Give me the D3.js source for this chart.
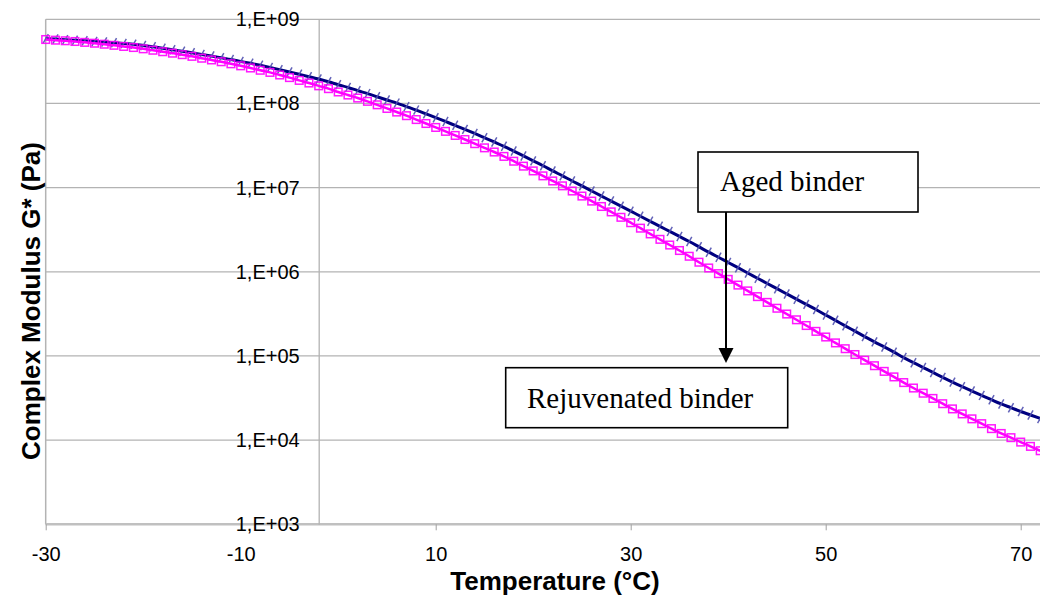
<!DOCTYPE html>
<html>
<head>
<meta charset="utf-8">
<script src="https://cdn.jsdelivr.net/npm/d3@7"></script>
<style>
  html, body { margin: 0; padding: 0; background: #fff; overflow: hidden; }
  svg { display: block; }
</style>
</head>
<body>
<div id="my_dataviz"></div>
<script>
// temperatures (°C), one reading every degree
var temperature = [-30,-29,-28,-27,-26,-25,-24,-23,-22,-21,-20,-19,-18,-17,-16,-15,-14,-13,-12,-11,
  -10,-9,-8,-7,-6,-5,-4,-3,-2,-1,0,1,2,3,4,5,6,7,8,9,10,11,12,13,14,15,16,17,18,19,
  20,21,22,23,24,25,26,27,28,29,30,31,32,33,34,35,36,37,38,39,40,41,42,43,44,45,46,47,48,49,
  50,51,52,53,54,55,56,57,58,59,60,61,62,63,64,65,66,67,68,69,70,71,72];

// complex modulus G* (Pa), aged binder
var agedG = [5.89e8,5.82e8,5.73e8,5.65e8,5.56e8,5.46e8,5.37e8,5.26e8,5.15e8,5.05e8,
  4.89e8,4.71e8,4.53e8,4.35e8,4.17e8,4.00e8,3.82e8,3.66e8,3.49e8,3.33e8,
  3.16e8,3.00e8,2.84e8,2.68e8,2.52e8,2.37e8,2.22e8,2.08e8,1.95e8,1.81e8,
  1.67e8,1.55e8,1.42e8,1.31e8,1.20e8,1.10e8,1.01e8,9.18e7,8.34e7,7.52e7,
  6.78e7,6.11e7,5.50e7,4.92e7,4.40e7,3.92e7,3.49e7,3.10e7,2.72e7,2.38e7,
  2.08e7,1.82e7,1.58e7,1.38e7,1.20e7,1.05e7,9.12e6,7.94e6,6.92e6,6.03e6,
  5.25e6,4.57e6,3.98e6,3.47e6,3.02e6,2.63e6,2.29e6,1.98e6,1.71e6,1.49e6,
  1.29e6,1.12e6,9.68e5,8.39e5,7.26e5,6.30e5,5.46e5,4.73e5,4.10e5,3.56e5,
  3.07e5,2.65e5,2.28e5,1.97e5,1.70e5,1.47e5,1.28e5,1.11e5,9.57e4,8.32e4,
  7.28e4,6.37e4,5.57e4,4.89e4,4.32e4,3.83e4,3.40e4,3.02e4,2.69e4,2.43e4,
  2.19e4,1.99e4,1.81e4];

// complex modulus G* (Pa), rejuvenated binder
var rejuvenatedG = [5.75e8,5.65e8,5.56e8,5.45e8,5.32e8,5.20e8,5.06e8,4.91e8,4.76e8,4.62e8,
  4.46e8,4.29e8,4.12e8,3.96e8,3.80e8,3.63e8,3.45e8,3.29e8,3.13e8,2.96e8,
  2.80e8,2.64e8,2.48e8,2.34e8,2.18e8,2.03e8,1.88e8,1.75e8,1.62e8,1.50e8,
  1.37e8,1.26e8,1.16e8,1.06e8,9.64e7,8.73e7,7.91e7,7.16e7,6.44e7,5.78e7,
  5.19e7,4.66e7,4.17e7,3.73e7,3.33e7,2.97e7,2.65e7,2.35e7,2.06e7,1.80e7,
  1.58e7,1.38e7,1.20e7,1.05e7,9.12e6,7.94e6,6.92e6,5.97e6,5.15e6,4.44e6,
  3.83e6,3.30e6,2.82e6,2.43e6,2.08e6,1.79e6,1.53e6,1.30e6,1.11e6,9.51e5,
  8.13e5,6.95e5,5.93e5,5.07e5,4.33e5,3.69e5,3.15e5,2.69e5,2.30e5,1.96e5,
  1.68e5,1.43e5,1.22e5,1.04e5,8.91e4,7.66e4,6.56e4,5.64e4,4.83e4,4.16e4,
  3.61e4,3.13e4,2.71e4,2.35e4,2.05e4,1.79e4,1.57e4,1.37e4,1.20e4,1.07e4,
  9.48e3,8.43e3,7.48e3];

// axis ticks
var xTicks = [-30, -10, 10, 30, 50, 70];
var yTicks = [1e3, 1e4, 1e5, 1e6, 1e7, 1e8, 1e9];
var yTickLabels = ["1,E+03", "1,E+04", "1,E+05", "1,E+06", "1,E+07", "1,E+08", "1,E+09"];
var yAxisCross = -2;   // °C where the vertical axis sits

var W = 1040, H = 596;
var plot = {left: 45.7, top: 19.3, right: 1040.2, bottom: 524.3};

var svg = d3.select("#my_dataviz")
  .append("svg")
  .attr("width", W)
  .attr("height", H);

var x = d3.scaleLinear()
  .domain([-30, 72])
  .range([plot.left, plot.right]);

var y = d3.scaleLog()
  .domain([1e3, 1e9])
  .range([plot.bottom, plot.top]);

var sans = "'Liberation Sans', Arial, sans-serif";
var serif = "'Liberation Serif', 'Times New Roman', serif";

// horizontal grid
svg.append("g")
  .selectAll("line")
  .data(yTicks)
  .enter()
  .append("line")
  .attr("x1", plot.left)
  .attr("x2", W)
  .attr("y1", function (d) { return y(d); })
  .attr("y2", function (d) { return y(d); })
  .attr("stroke", "#b3b3b3")
  .attr("stroke-width", 1.3);

// left frame line
svg.append("line")
  .attr("x1", plot.left).attr("x2", plot.left)
  .attr("y1", plot.top).attr("y2", plot.bottom)
  .attr("stroke", "#b3b3b3")
  .attr("stroke-width", 1.5);

// X axis
var xAxis = svg.append("g")
  .attr("transform", "translate(0," + plot.bottom + ")")
  .call(d3.axisBottom(x).tickValues(xTicks).tickSize(6).tickPadding(17)
    .tickFormat(function (d) { return d < 0 ? "-" + Math.abs(d) : d; }));
xAxis.select(".domain").attr("stroke", "#c0c0c0").attr("stroke-width", 2.5)
  .attr("d", "M" + plot.left + ",0H" + W);
xAxis.selectAll(".tick line").attr("stroke", "#a0a0a0");
xAxis.selectAll("text")
  .style("font-family", sans)
  .style("font-size", "20px")
  .attr("fill", "#000");

// Y axis
var yAxis = svg.append("g")
  .attr("transform", "translate(" + x(yAxisCross) + ",0)")
  .call(d3.axisLeft(y).tickValues(yTicks).tickSize(0).tickPadding(19)
    .tickFormat(function (d, i) { return yTickLabels[i]; }));
yAxis.select(".domain").attr("stroke", "#b3b3b3").attr("stroke-width", 1.3);
yAxis.selectAll("text")
  .style("font-family", sans)
  .style("font-size", "20px")
  .attr("fill", "#000");

// series
var aged = temperature.map(function (t, i) { return {t: t, g: agedG[i]}; });
var rejuvenated = temperature.map(function (t, i) { return {t: t, g: rejuvenatedG[i]}; });

var line = d3.line()
  .x(function (d) { return x(d.t); })
  .y(function (d) { return y(d.g); })
  .curve(d3.curveMonotoneX);

// aged binder: navy line with hatch markers
svg.append("path")
  .datum(aged)
  .attr("d", line)
  .attr("fill", "none")
  .attr("stroke", "#000080")
  .attr("stroke-width", 3);

svg.append("g")
  .selectAll("path")
  .data(aged)
  .enter()
  .append("path")
  .attr("transform", function (d) { return "translate(" + x(d.t) + "," + y(d.g) + ")"; })
  .attr("d", "M-2.6,4.6L2.6,-4.6")
  .attr("stroke", "#5050b0")
  .attr("stroke-opacity", 0.9)
  .attr("stroke-width", 1.5);

// rejuvenated binder: magenta line with square markers
svg.append("path")
  .datum(rejuvenated)
  .attr("d", line)
  .attr("fill", "none")
  .attr("stroke", "#ff00ff")
  .attr("stroke-width", 2.5);

svg.append("g")
  .selectAll("rect")
  .data(rejuvenated)
  .enter()
  .append("rect")
  .attr("x", function (d) { return x(d.t) - 3.8; })
  .attr("y", function (d) { return y(d.g) - 3.8; })
  .attr("width", 7.6)
  .attr("height", 7.6)
  .attr("fill", "none")
  .attr("stroke", "#ff00ff")
  .attr("stroke-opacity", 0.9)
  .attr("stroke-width", 1.5);

// axis titles
svg.append("text")
  .attr("x", 555)
  .attr("y", 590)
  .attr("text-anchor", "middle")
  .style("font-family", sans)
  .style("font-size", "26px")
  .style("font-weight", "bold")
  .text("Temperature (°C)");

svg.append("text")
  .attr("transform", "translate(40,301) rotate(-90)")
  .attr("text-anchor", "middle")
  .style("font-family", sans)
  .style("font-size", "26px")
  .style("font-weight", "bold")
  .text("Complex Modulus G* (Pa)");

// annotations
var notes = [
  {label: "Aged binder", x: 698, y: 152, w: 220, h: 60, tx: 720, ty: 191},
  {label: "Rejuvenated binder", x: 505.7, y: 367.7, w: 282, h: 60, tx: 527, ty: 408}
];

var note = svg.append("g")
  .selectAll("g")
  .data(notes)
  .enter()
  .append("g");
note.append("rect")
  .attr("x", function (d) { return d.x; })
  .attr("y", function (d) { return d.y; })
  .attr("width", function (d) { return d.w; })
  .attr("height", function (d) { return d.h; })
  .attr("fill", "#fff")
  .attr("stroke", "#000")
  .attr("stroke-width", 1.6);
note.append("text")
  .attr("x", function (d) { return d.tx; })
  .attr("y", function (d) { return d.ty; })
  .style("font-family", serif)
  .style("font-size", "29px")
  .attr("fill", "#000")
  .text(function (d) { return d.label; });

// arrow from aged box down to rejuvenated box
var ax = 726;
svg.append("line")
  .attr("x1", ax).attr("x2", ax)
  .attr("y1", 212).attr("y2", 350)
  .attr("stroke", "#000")
  .attr("stroke-width", 2);
svg.append("path")
  .attr("d", "M" + ax + ",363L" + (ax - 7.5) + ",348L" + (ax + 7.5) + ",348Z")
  .attr("fill", "#000");
</script>
</body>
</html>
